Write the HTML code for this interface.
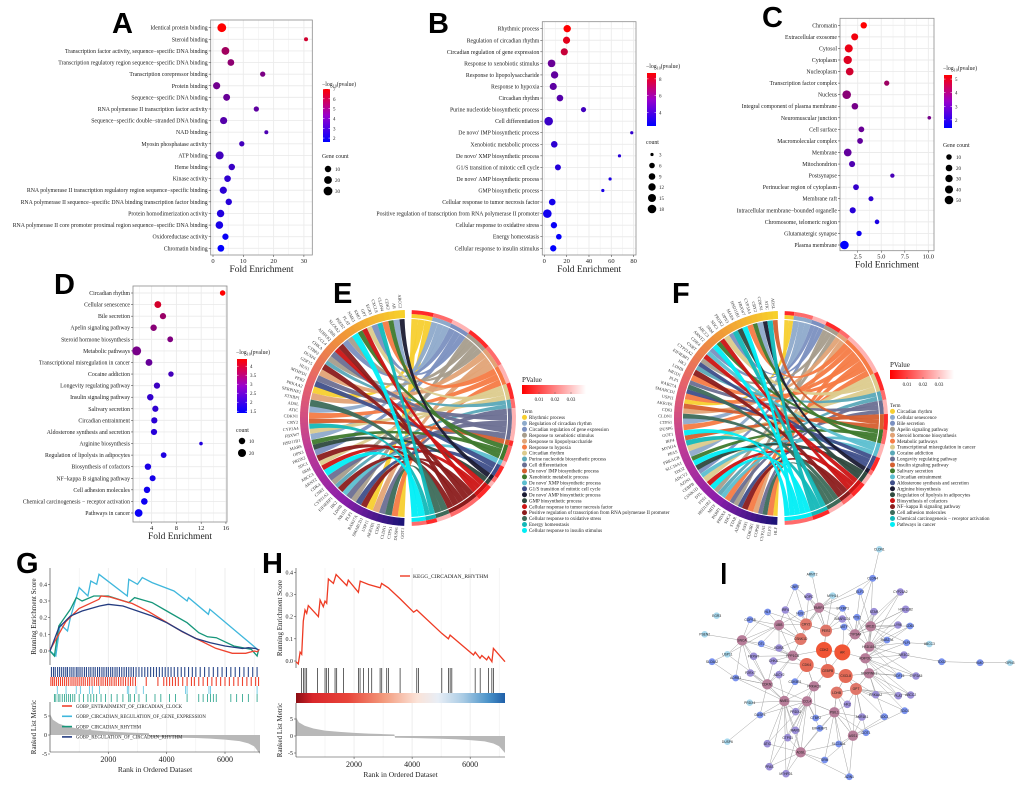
<!DOCTYPE html>
<html><head><meta charset="utf-8"><title>Figure</title>
<style>html,body{margin:0;padding:0;background:#fff}svg{display:block}</style></head>
<body>
<svg id="fig" width="1020" height="786" viewBox="0 0 1020 786" xmlns="http://www.w3.org/2000/svg">
<defs>
<linearGradient id="cbar" x1="0" y1="1" x2="0" y2="0"><stop offset="0" stop-color="#0000ff"/><stop offset="0.5" stop-color="#9900cc"/><stop offset="1" stop-color="#ff0000"/></linearGradient>
<linearGradient id="pbar" x1="0" y1="0" x2="1" y2="0"><stop offset="0" stop-color="#ff0000"/><stop offset="1" stop-color="#ffffff"/></linearGradient>
<linearGradient id="hband" x1="0" y1="0" x2="1" y2="0"><stop offset="0" stop-color="#8b0d14"/><stop offset="0.08" stop-color="#d9262b"/><stop offset="0.25" stop-color="#e8453a"/><stop offset="0.42" stop-color="#f39a7c"/><stop offset="0.58" stop-color="#fbe3d8"/><stop offset="0.68" stop-color="#e8eef6"/><stop offset="0.8" stop-color="#a9cbe4"/><stop offset="0.92" stop-color="#4b93c9"/><stop offset="1" stop-color="#1f5fa8"/></linearGradient>
</defs>
</svg>
<script>
// ---------------- DATA ----------------
const aTerms=["Identical protein binding","Steroid binding","Transcription factor activity, sequence−specific DNA binding","Transcription regulatory region sequence−specific DNA binding","Transcription corepressor binding","Protein binding","Sequence−specific DNA binding","RNA polymerase II transcription factor activity","Sequence−specific double−stranded DNA binding","NAD binding","Myosin phosphatase activity","ATP binding","Heme binding","Kinase activity","RNA polymerase II transcription regulatory region sequence−specific binding","RNA polymerase II sequence−specific DNA binding transcription factor binding","Protein homodimerization activity","RNA polymerase II core promoter proximal region sequence−specific DNA binding","Oxidoreductase activity","Chromatin binding"];
const aFold=[2.9,30.7,4.1,5.9,16.4,1.2,4.5,14.3,3.5,17.6,9.5,2.2,6.2,4.8,3.4,5.2,2.5,2.1,4.1,2.6];
const aLogP=[7,6,5,4.6,4.2,4,3.8,3.6,3.4,3.2,3,3,2.8,2.6,2.5,2.4,2.3,2.1,1.8,1.6];
const aCount=[30,3,20,12,5,15,13,5,15,3,5,22,10,11,15,10,17,18,9,12];

const bTerms=["Rhythmic process","Regulation of circadian rhythm","Circadian regulation of gene expression","Response to xenobiotic stimulus","Response to lipopolysaccharide","Response to hypoxia","Circadian rhythm","Purine nucleotide biosynthetic process","Cell differentiation","De novo' IMP biosynthetic process","Xenobiotic metabolic process","De novo' XMP biosynthetic process","G1/S transition of mitotic cell cycle","De novo' AMP biosynthetic process","GMP biosynthetic process","Cellular response to tumor necrosis factor","Positive regulation of transcription from RNA polymerase II promoter","Cellular response to oxidative stress","Energy homeostasis","Cellular response to insulin stimulus"];
const bFold=[20.5,19.9,17.9,6.5,9.2,8,14,35.1,3.9,78.3,8.9,67.3,12.2,58.9,52.4,7.1,2.7,8.6,13,8];
const bLogP=[8.7,8,7.3,5,4.8,4.7,4.5,4,3.8,3.6,3.5,3.4,3.3,3.1,3,2.9,2.8,2.6,2.5,2.4];
const bCount=[12,11,11,13,12,11,9,5,18,3,9,3,7,3,3,9,18,8,6,8];

const cTerms=["Chromatin","Extracellular exosome","Cytosol","Cytoplasm","Nucleoplasm","Transcription factor complex","Nucleus","Integral component of plasma membrane","Neuromuscular junction","Cell surface","Macromolecular complex","Membrane","Mitochondrion","Postsynapse","Perinuclear region of cytoplasm","Membrane raft","Intracellular membrane−bounded organelle","Chromosome, telomeric region","Glutamatergic synapse","Plasma membrane"];
const cFold=[3.14,2.18,1.55,1.44,1.65,5.58,1.33,2.2,10.1,2.89,2.75,1.44,1.9,6.18,2.32,3.91,1.97,4.55,2.64,1.09];
const cLogP=[5.3,5.1,5,4.8,4.6,3.8,3.5,3.2,3.2,3,2.9,2.9,2.6,2.5,2.2,2.1,2,1.8,1.6,1.4];
const cCount=[18,25,40,45,35,8,50,20,3,12,12,35,15,4,12,7,15,5,9,50];

const dTerms=["Circadian rhythm","Cellular senescence","Bile secretion","Apelin signaling pathway","Steroid hormone biosynthesis","Metabolic pathways","Transcriptional misregulation in cancer","Cocaine addiction","Longevity regulating pathway","Insulin signaling pathway","Salivary secretion","Circadian entrainment","Aldosterone synthesis and secretion","Arginine biosynthesis","Regulation of lipolysis in adipocytes","Biosynthesis of cofactors","NF−kappa B signaling pathway","Cell adhesion molecules","Chemical carcinogenesis − receptor activation","Pathways in cancer"];
const dFold=[15.46,5.0,5.83,4.32,7.0,1.58,3.57,7.12,4.86,3.78,4.6,4.43,4.38,11.97,5.94,3.4,4.16,3.25,2.82,1.9];
const dLogP=[4.4,3.9,3.2,3.0,2.9,2.8,2.6,2.2,2.1,2.0,1.95,1.9,1.85,1.8,1.75,1.7,1.65,1.6,1.55,1.5];
const dCount=[6,12,9,10,7,28,12,6,9,10,9,9,9,3,7,10,8,10,11,18];

const gRed=[[0,0.006],[537,0.175],[994,0.255],[1680,0.31],[1750,0.33],[2023,0.325],[2823,0.285],[3394,0.235],[3966,0.175],[4537,0.115],[5109,0.066],[5680,0.016],[6251,-0.014],[6709,-0.014],[7000,0],[7109,-0.004],[7180,0.01]];
const gCyan=[[0,0],[200,-0.03],[350,0.16],[600,0.12],[700,0.2],[1000,0.38],[1300,0.33],[1400,0.42],[1600,0.4],[1680,0.46],[2650,0.33],[2700,0.43],[3000,0.4],[3166,0.44],[3500,0.41],[4250,0.36],[4700,0.3],[4750,0.32],[5430,0.22],[5480,0.25],[7110,0.01]];
const gGreen=[[0,0],[150,-0.03],[300,0.15],[700,0.25],[900,0.32],[1100,0.3],[1500,0.33],[2000,0.33],[2700,0.29],[2900,0.32],[3500,0.29],[4000,0.24],[4700,0.17],[5100,0.11],[5400,0.085],[5700,0.08],[6300,0.03],[6900,0.01],[7100,-0.03],[7150,0.005]];
const gNavy=[[0,0],[300,0.14],[700,0.21],[1100,0.24],[1700,0.27],[2000,0.28],[2500,0.27],[3000,0.24],[3500,0.21],[4000,0.17],[4500,0.12],[5000,0.075],[5500,0.05],[6000,0.03],[6600,0.015],[6800,0.02],[7050,0.015],[7150,0.007]];
const gNavyHits=[50,120,180,260,330,400,470,540,600,680,750,820,900,960,1030,1100,1180,1250,1330,1400,1480,1550,1630,1700,1780,1850,1930,2000,2080,2150,2230,2300,2380,2460,2540,2620,2700,2780,2860,2950,3050,3150,3250,3350,3450,3550,3650,3750,3850,3950,4050,4150,4260,4380,4500,4620,4750,4880,5000,5150,5300,5450,5600,5750,5900,6050,6200,6350,6500,6650,6800,6950,7100];
const gRedHits=[30,90,150,220,290,360,430,500,570,640,720,790,860,930,1000,1070,1140,1210,1290,1360,1440,1520,1600,1670,1750,1820,1900,1970,2050,2120,2200,2270,2350,2430,2510,2590,2680,2760,2840,2930,3300,3700,3900,4000,4100,4200,4300,4400,4550,4700,4850,4950,5100,5250,5400,5550,5700,5850,6000,6150,6300,6450,6600,6750,6900,7050,7150];
const gCyanHits=[250,550,900,1050,1350,1450,1700,2650,2700,2950,3200,4650,4700,5450,5500,7100];
const gGreenHits=[150,200,280,340,420,500,560,640,700,780,850,1000,1150,1300,1400,1500,1600,1750,1900,2100,2300,2500,2700,2750,2900,3050,3300,3600,3800,4100,4300,4700,5100,5250,5400,5500,5600,5700,6200,6400,6600,6800,7100];
const metricRank=[0,100,300,600,1000,1500,2000,2500,3000,3390,3410,4000,4500,5000,5500,6000,6500,6800,7000,7150,7200];
const metricVal=[5.5,4,3,2.2,1.6,1.2,0.9,0.7,0.55,0.45,-0.5,-0.6,-0.7,-0.8,-0.95,-1.2,-1.6,-2.2,-3,-4.5,-5];
const hES=[[0,-0.003],[80,-0.013],[140,0.04],[195,0.03],[250,0.18],[310,0.23],[370,0.215],[425,0.25],[770,0.2],[830,0.275],[940,0.245],[1000,0.27],[1057,0.26],[1115,0.37],[1290,0.35],[1380,0.39],[1750,0.34],[1800,0.365],[2150,0.31],[2210,0.36],[2500,0.345],[2900,0.33],[2950,0.35],[3180,0.33],[3590,0.28],[4050,0.22],[4160,0.23],[5020,0.125],[5250,0.1],[5310,0.117],[6115,0.027],[6172,0.04],[6340,0.012],[6400,0.025],[6570,0.005],[6630,0.02],[6750,-0.003],[6800,0.057],[7200,-0.003]];
const hHits=[195,253,310,368,736,1000,1057,1115,1345,1402,1632,2149,2207,2322,2494,2609,2897,2954,3126,3184,3586,4161,4218,5023,5253,5310,5368,6172,6345,6632,6747,6805];
const xTicksGSEA=[2000,4000,6000];

// ---------------- HELPERS ----------------
const svg=document.getElementById('fig');
function mk(tag,attrs,parent){const e=document.createElementNS('http://www.w3.org/2000/svg',tag);for(const k in attrs)e.setAttribute(k,attrs[k]);(parent||svg).appendChild(e);return e;}
function txt(s,x,y,size,anchor,parent,extra){const t=mk('text',Object.assign({x:x,y:y,'font-size':size,'text-anchor':anchor||'start','font-family':'Liberation Serif, serif',fill:'#222'},extra||{}),parent);t.textContent=s;return t;}
function letter(s,x,y,parent){const t=mk('text',{x:x,y:y,'font-size':29,'font-weight':'bold','font-family':'Liberation Sans, sans-serif',fill:'#000'},parent);t.textContent=s;return t;}
function col(t){t=Math.max(0,Math.min(1,t));return 'rgb('+Math.round(255*t)+',0,'+Math.round(255*(1-t))+')';}

// ---------------- DOT PLOTS ----------------
function dotPanel(c){
  const g=mk('g',{});
  
  
  const sx=v=>c.x0+(v-c.d0)/(c.d1-c.d0)*(c.x1-c.x0);
  const n=c.terms.length;
  const sy=i=>c.r0+(c.r1-c.r0)*i/(n-1);
  mk('rect',{x:c.x0,y:c.y0,width:c.x1-c.x0,height:c.y1-c.y0,fill:'#fff'},g);
  const step=c.ticks[1]-c.ticks[0];
  for(let t=c.ticks[0]-step;t<=c.ticks[c.ticks.length-1]+step;t+=step/2){const x=sx(t);if(x>c.x0&&x<c.x1)mk('line',{x1:x,x2:x,y1:c.y0,y2:c.y1,stroke:'#ebebeb','stroke-width':Math.abs(((t-c.ticks[0])/step)%1)<1e-6?0.9:0.45},g);}
  for(let i=0;i<n;i++)mk('line',{x1:c.x0,x2:c.x1,y1:sy(i),y2:sy(i),stroke:'#ebebeb','stroke-width':0.9},g);
  mk('rect',{x:c.x0,y:c.y0,width:c.x1-c.x0,height:c.y1-c.y0,fill:'none',stroke:'#8c8c8c','stroke-width':0.8},g);
  for(let i=0;i<n;i++){
    mk('line',{x1:c.x0-2,x2:c.x0,y1:sy(i),y2:sy(i),stroke:'#333','stroke-width':0.5},g);
    const lb=txt(c.terms[i],c.x0-3,sy(i)+2,5.8,'end',g);
    
    
    const r=c.rmin+(c.rmax-c.rmin)*Math.sqrt(Math.max(0,(c.count[i]-c.smin)/(c.smax-c.smin)));
    const d=mk('circle',{cx:sx(c.fold[i]),cy:sy(i),r:r,fill:col((c.logp[i]-c.cmin)/(c.cmax-c.cmin))},g);
    
    
  }
  c.ticks.forEach(t=>{const x=sx(t);mk('line',{x1:x,x2:x,y1:c.y1,y2:c.y1+2,stroke:'#333','stroke-width':0.5},g);const tl=txt(c.tickLabels?c.tickLabels[c.ticks.indexOf(t)]:String(t),x,c.y1+8,6.5,'middle',g);});
  const xt=txt('Fold Enrichment',(c.x0+c.x1)/2,c.y1+17,9.5,'middle',g);
  
  
  const L=c.leg;
  const lt=mk('text',{x:L.x-1,y:L.ty,'font-size':5.8,'font-family':'Liberation Serif, serif',fill:'#222'},g);
  lt.innerHTML='−log<tspan font-size="4" dy="1.5">10</tspan><tspan dy="-1.5">(pvalue)</tspan>';
  
  
  const cb=mk('rect',{x:L.x,y:L.b0,width:L.w,height:L.b1-L.b0,fill:'url(#cbar)'},g);
  
  
  L.cticks.forEach(v=>{const y=L.b1-(v-c.cmin)/(c.cmax-c.cmin)*(L.b1-L.b0);mk('line',{x1:L.x,x2:L.x+1.5,y1:y,y2:y,stroke:'#fff','stroke-width':0.5},g);mk('line',{x1:L.x+L.w-1.5,x2:L.x+L.w,y1:y,y2:y,stroke:'#fff','stroke-width':0.5},g);txt(String(v),L.x+L.w+3,y+2,5,'start',g);});
  const st=txt(L.stitle,L.x-1,L.sty,5.8,'start',g);
  
  
  L.svals.forEach((v,i)=>{const r=c.rmin+(c.rmax-c.rmin)*Math.sqrt(Math.max(0,(v-c.smin)/(c.smax-c.smin)));const d=mk('circle',{cx:L.x+5,cy:L.sy[i],r:r,fill:'#000'},g);txt(String(v),L.x+12,L.sy[i]+2,5,'start',g);});
}
dotPanel({name:'panel-a-mf-dotplot',terms:aTerms,fold:aFold,logp:aLogP,count:aCount,x0:210.7,x1:312.3,y0:20,y1:255,d0:-0.76,d1:32.77,r0:27.7,r1:248.3,ticks:[0,10,20,30],cmin:1.6,cmax:7,rmin:2,rmax:4.4,smin:3,smax:30,
 leg:{x:323,ty:86,b0:89,b1:142,w:7,cticks:[2,3,4,5,6,7],stitle:'Gene count',sty:158,svals:[10,20,30],sy:[169,180,191]}});
dotPanel({name:'panel-b-bp-dotplot',terms:bTerms,fold:bFold,logp:bLogP,count:bCount,x0:542.3,x1:636,y0:21.7,y1:255,d0:-1.8,d1:82.1,r0:28.7,r1:248.3,ticks:[0,20,40,60,80],cmin:2.4,cmax:8.7,rmin:1.6,rmax:4.3,smin:3,smax:18,
 leg:{x:647,ty:68,b0:73,b1:126,w:9,cticks:[4,6,8],stitle:'count',sty:144,svals:[3,6,9,12,15,18],sy:[154.5,165.5,176.5,187,198,209]}});
dotPanel({name:'panel-c-cc-dotplot',terms:cTerms,fold:cFold,logp:cLogP,count:cCount,x0:840,x1:934,y0:18.3,y1:250.7,d0:0.62,d1:10.6,r0:25.3,r1:245,ticks:[2.5,5,7.5,10],tickLabels:['2.5','5.0','7.5','10.0'],cmin:1.4,cmax:5.3,rmin:1.8,rmax:4.3,smin:3,smax:50,
 leg:{x:944,ty:70,b0:75,b1:128,w:8,cticks:[2,3,4,5],stitle:'Gene count',sty:147,svals:[10,20,30,40,50],sy:[157,168,178.5,189.5,200]}});
dotPanel({name:'panel-d-kegg-dotplot',terms:dTerms,fold:dFold,logp:dLogP,count:dCount,x0:133,x1:227,y0:286,y1:522,d0:0.99,d1:16.17,r0:293,r1:513,ticks:[4,8,12,16],cmin:1.4,cmax:4.4,rmin:1.8,rmax:4.5,smin:3,smax:28,
 leg:{x:237,ty:354,b0:359,b1:413,w:10,cticks:[1.5,2.0,2.5,3.0,3.5,4.0],stitle:'count',sty:432,svals:[10,20],sy:[441,453]}});
letter('A',112,33);letter('B',428,33);letter('C',762,27);letter('D',54,294);

// ---------------- CHORD DIAGRAMS ----------------
const termColors=['#f7cf2f','#8eaacb','#7b90c0','#a79d8c','#e2a376','#f67b45','#dccb8d','#5aa8b8','#6b6f92','#d55f2f','#3f7a2e','#5cbfd0','#3f4f8a','#1b1b33','#2f4a3f','#cc1414','#8b1c1c','#3d6b5a','#13b8b8','#00eef5'];
const geneNames=['ABCC2','ABCC3','ADRB1','ADSL','ADCY2','ADIPOQ','AKR1B1','AR','ARNT2','ASS1','ATIC','AZIN1','CCL4','CD63','CDK2','CDK4','CDK5R1','CDKN1','CEBPB','CHKA','CLDN1','CLDN4','CNRT','COPS8','CRY2','CSNK1D','CTBP2','CTPS1','CXCL8','CYP21A2','CYP2A5','CYP3A4','DTL','DUSP4','DUSP6','EGR3','EIF4EBP1','ELF3','FBXW7','FTS1','GDF15','GOT1','GPT','HK2','HLF','HSD11B1','HSD11B2','HUS1','IRF4','KMO','LDHB','LY96','MARS','MITF','MTHFD1','MYH14','NME1','NR1D1','NR3C2','OPN3','PARP1','PER2','PFAS','PLAT','PLP1','PPP1CB','PRDX2','PRDX4','PRKAA2','PRKACB','PSEN2','RAB27A','RORA','SDC1','SDC4','SERPINE1','SLC16A1','SLC6A2','SMARCD1','SNCA','SRM','STAR','STXBP1','TDO2','UBB','USP11'];
function chord(c){
  const g=mk('g',{});
  
  
  const cx=c.cx,cy=c.cy,r=c.r;
  const P=(a,rr)=>[(cx+rr*Math.cos(a*Math.PI/180)).toFixed(2),(cy+rr*Math.sin(a*Math.PI/180)).toFixed(2)];
  const band=(a1,a2,r1,r2)=>{const p1=P(a1,r2),p2=P(a2,r2),p3=P(a2,r1),p4=P(a1,r1);const lg=(a2-a1)>180?1:0;return 'M'+p1+' A'+r2+' '+r2+' 0 '+lg+' 1 '+p2+' L'+p3+' A'+r1+' '+r1+' 0 '+lg+' 0 '+p4+'Z';};
  const tot=c.counts.reduce((a,b)=>a+b,0);const span=176;
  let a=-88;const segs=[];
  c.counts.forEach(cn=>{const w=cn/tot*span;segs.push([a,a+w]);a+=w;});
  const chords=[];
  segs.forEach((s,k)=>{const cn=Math.max(1,Math.ceil(c.counts[k]/4));const w=(s[1]-s[0])/cn;for(let j=0;j<cn;j++)chords.push({k:k,a1:s[0]+j*w,a2:s[0]+(j+1)*w,key:(k*37+j*53)%97+k*0.01+j*0.0001});});
  const sorted=chords.slice().sort((p,q)=>p.key-q.key);
  let b=92;sorted.forEach(ch=>{const w=ch.a2-ch.a1;ch.b1=b;ch.b2=b+w;b+=w;});
  chords.forEach(ch=>{
    const p=mk('path',{d:'M'+P(ch.a1,r)+' A'+r+' '+r+' 0 0 1 '+P(ch.a2,r)+' Q'+cx+' '+cy+' '+P(ch.b1,r)+' A'+r+' '+r+' 0 0 1 '+P(ch.b2,r)+' Q'+cx+' '+cy+' '+P(ch.a1,r)+'Z',fill:termColors[ch.k],'fill-opacity':0.95},g);
    
    
  });
  segs.forEach((s,k)=>{
    const t=mk('path',{d:band(s[0],s[1],r+1,r+5),fill:termColors[k]},g);
    
    
    const pv=k%3===0?'#ff2a2a':(k%3===1?'#ff6b6b':'#ffb3b3');
    mk('path',{d:band(s[0],s[1],r+5,r+9),fill:pv},g);
  });
  const gstops=[[247,208,42],[240,150,55],[228,95,110],[190,60,150],[140,30,170],[30,20,120]];
  for(let i=0;i<60;i++){const t=i/59;const f=t*(gstops.length-1);const i0=Math.min(gstops.length-2,Math.floor(f));const u=f-i0;const cc=gstops[i0].map((v,j)=>Math.round(v+(gstops[i0+1][j]-v)*u));
    mk('path',{d:band(268-(i+1)*176/60,268-i*176/60+0.3,r+1,r+9),fill:'rgb('+cc+')'},g);}
  for(let i=0;i<56;i++){const ang=266-i*3.15;const p=P(ang,r+11);const t=txt(geneNames[(i*7+c.off)%geneNames.length],p[0],p[1],4.3,'end',g,{transform:'rotate('+(ang-180)+' '+p[0]+' '+p[1]+')',fill:'#333'});t.setAttribute('dy','1.4');}
  const lx=c.lx;
  const pt=txt('PValue',lx,c.py,7,'start',g);
  
  
  const pb=mk('rect',{x:lx,y:c.py+3,width:64,height:9,fill:'url(#pbar)'},g);
  
  
  [['0.01',17],['0.02',33],['0.03',49]].forEach(q=>{mk('line',{x1:lx+q[1],x2:lx+q[1],y1:c.py+10,y2:c.py+12,stroke:'#555','stroke-width':0.4},g);txt(q[0],lx+q[1],c.py+19,5,'middle',g);});
  txt('Term',lx,c.ty,5,'start',g);
  c.terms.forEach((tm,i)=>{const y=c.ty+6+i*5.95;const sw=mk('circle',{cx:lx+2.5,cy:y-1.6,r:2.5,fill:termColors[i]},g);const t=txt(tm,lx+7,y,5,'start',g);});
}
chord({name:'panel-e-bp-chord',cx:408,cy:418,r:99,counts:bCount,terms:bTerms,lx:522,py:382,ty:413,off:0});
chord({name:'panel-f-kegg-chord',cx:781,cy:418,r:98,counts:dCount,terms:dTerms,lx:890,py:367,ty:407,off:3});
letter('E',333,303);letter('F',672,303);

// ---------------- GSEA ----------------
function gsea(c){
  const g=mk('g',{});
  
  
  const sx=v=>c.x0+v/7200*(c.x1-c.x0);
  const ey=v=>c.e0-v/0.4*(c.e0-c.e4);
  for(let t=1000;t<7200;t+=1000){const x=sx(t);mk('line',{x1:x,x2:x,y1:c.top,y2:c.bottom,stroke:'#ececec','stroke-width':t%2000===0?0.9:0.5},g);}
  mk('line',{x1:c.x0,x2:c.x0,y1:c.top,y2:c.etop2,stroke:'#333','stroke-width':0.6},g);
  [0,0.1,0.2,0.3,0.4].forEach(v=>{const y=ey(v);mk('line',{x1:c.x0-2,x2:c.x0,y1:y,y2:y,stroke:'#333','stroke-width':0.5},g);const tl=txt(v.toFixed(1),c.x0-3,y+2,6,'end',g);});
  const yt=txt('Running Enrichment Score',0,0,7,'middle',g,{transform:'translate('+(c.x0-14)+','+((c.top+c.etop2)/2)+') rotate(-90)'});
  
  
  c.series.forEach(s=>{const pl=mk('polyline',{points:s.pts.map(p=>sx(p[0]).toFixed(1)+','+ey(p[1]).toFixed(1)).join(' '),fill:'none',stroke:s.color,'stroke-width':1.3},g);});
  c.hits.forEach(h=>{h.ranks.forEach(rk=>{const l=mk('line',{x1:sx(rk),x2:sx(rk),y1:h.y0,y2:h.y1,stroke:h.color,'stroke-width':h.w||0.8},g);});});
  const my=v=>c.m0-v/5*(c.m0-c.m5);
  let d='M'+sx(0)+','+my(0);
  metricRank.forEach((rk,i)=>{d+=' L'+sx(rk).toFixed(1)+','+my(metricVal[i]).toFixed(1);});
  d+=' L'+sx(7200)+','+my(0)+'Z';
  const ar=mk('path',{d:d,fill:'#b8b8b8'},g);
  
  
  mk('line',{x1:c.x0,x2:c.x0,y1:c.mtop,y2:c.bottom,stroke:'#333','stroke-width':0.6},g);
  [5,0,-5].forEach(v=>{const y=my(v);mk('line',{x1:c.x0-2,x2:c.x0,y1:y,y2:y,stroke:'#333','stroke-width':0.5},g);txt(v===-5?'-5':String(v),c.x0-3,y+2,6,'end',g);});
  const mt=txt('Ranked List Metric',0,0,7,'middle',g,{transform:'translate('+(c.x0-14)+','+((c.mtop+c.bottom)/2)+') rotate(-90)'});
  
  
  mk('line',{x1:c.x0,x2:c.x1,y1:c.bottom,y2:c.bottom,stroke:'#333','stroke-width':0.6},g);
  xTicksGSEA.forEach(t=>{const x=sx(t);mk('line',{x1:x,x2:x,y1:c.bottom,y2:c.bottom+2,stroke:'#333','stroke-width':0.5},g);const tl=txt(String(t),x,c.bottom+10,8,'middle',g);});
  const xt=txt('Rank in Ordered Dataset',(c.x0+c.x1)/2,c.bottom+20,7.5,'middle',g);
  
  
  return {g:g,sx:sx};
}
gsea({name:'panel-g-gsea',x0:50,x1:260,top:568,etop2:665,e0:651,e4:584.3,bottom:752,mtop:702,m0:735,m5:716,
 series:[{key:'cyan',pts:gCyan,color:'#3fb7dc'},{key:'green',pts:gGreen,color:'#16967a'},{key:'red',pts:gRed,color:'#ee4430'},{key:'navy',pts:gNavy,color:'#253c80'}],
 hits:[{ranks:gNavyHits,color:'#2d4a8c',y0:667,y1:677,w:1.1},{ranks:gRedHits,color:'#ee4430',y0:677,y1:686,w:1.1},{ranks:gCyanHits,color:'#5cc3e0',y0:686,y1:694},{ranks:gGreenHits,color:'#1e9f85',y0:694,y1:702}]});
const gLeg=[['GOBP_ENTRAINMENT_OF_CIRCADIAN_CLOCK','#ee4430'],['GOBP_CIRCADIAN_REGULATION_OF_GENE_EXPRESSION','#3fb7dc'],['GOBP_CIRCADIAN_RHYTHM','#16967a'],['GOBP_REGULATION_OF_CIRCADIAN_RHYTHM','#253c80']];
gLeg.forEach((e,i)=>{const y=706+i*10.3;const l=mk('line',{x1:62,x2:72,y1:y,y2:y,stroke:e[1],'stroke-width':1.6});const t=txt(e[0],76,y+1.8,4.8,'start');});

gsea({name:'panel-h-gsea',x0:296,x1:505,top:568,etop2:668,e0:661,e4:572.3,bottom:757,mtop:703,m0:736,m5:719,
 series:[{key:'red',pts:hES,color:'#ee3b24'}],
 hits:[{ranks:hHits,color:'#222',y0:668,y1:693,w:0.7}]});
const hb=mk('rect',{x:296,y:693,width:209,height:10,fill:'url(#hband)'});


const hl=mk('line',{x1:400,x2:410,y1:576,y2:576,stroke:'#ee3b24','stroke-width':1.4});


const hlt=txt('KEGG_CIRCADIAN_RHYTHM',413,578,5.5,'start');


letter('G',16,573);letter('H',262,573);

// ---------------- NETWORK ----------------
const netNodes=[["CDK2",432,315,"O"],["AR",487,322,"O"],["CDK4",380,360,"R1"],["CEBPB",443,378,"R1"],["CXCL8",497,393,"R1"],["GPT",528,432,"R"],["LDHB",470,443,"R"],["PER2",438,257,"R"],["CRY2",378,238,"R"],["CSNK1D",362,282,"R"],["UBB",297,240,"M"],["PPP1CB",338,332,"M"],["CYP3A4",525,268,"M"],["ADIPOQ",556,340,"M"],["SERPINE1",567,385,"M"],["HSD11B1",568,305,"M"],["NR1D1",572,244,"M"],["PARP1",417,188,"M"],["SNCA",186,286,"M"],["CDKN1",262,418,"M"],["NME1",313,468,"M"],["CCL4",381,469,"M"],["PRKACB",402,424,"M"],["PSIL1",463,502,"M"],["ASS1",519,572,"M"],["ADSL",362,622,"M"],["CTPS1",323,578,"P"],["ATIC",262,596,"P"],["PFAS",268,665,"P"],["MTHFD1",318,686,"P"],["SRM",434,645,"B"],["AZIN1",508,695,"B"],["SLC16A1",476,597,"B"],["GOT1",558,563,"B"],["EIF4EBP1",419,550,"B"],["CTBP2",407,519,"B"],["MARS",346,556,"P"],["HK2",502,478,"P"],["AKR1B1",546,516,"P"],["PRKAA2",587,449,"P"],["PLAT",655,452,"P"],["ABCC2",692,450,"P"],["CYP2A5",708,393,"P"],["GDF15",657,392,"B"],["SDC4",674,497,"B"],["SDC1",613,515,"B"],["NR3C2",672,330,"P"],["PLP1",680,293,"B"],["ABCC3",748,297,"C"],["CD63",690,243,"B"],["LY96",654,240,"P"],["HSD11B2",677,193,"P"],["CYP21A2",661,141,"P"],["STAR",582,200,"P"],["RAB27A",621,285,"B"],["FTS1",531,217,"B"],["MITF",492,246,"B"],["SMARCD1",487,222,"P"],["STXBP1",488,190,"B"],["ELF3",540,140,"B"],["CLDN4",578,100,"B"],["CLDN1",598,13,"C"],["ARNT2",396,88,"C"],["MYH14",458,152,"C"],["NOPC",386,155,"P"],["CNRT",345,126,"B"],["IRF4",316,195,"P"],["HUS1",362,205,"B"],["HLF",263,201,"B"],["COPS8",210,224,"B"],["EGR3",110,212,"C"],["PSEN2",74,268,"C"],["DTL",244,296,"B"],["RORA",297,309,"P"],["CHKA",280,348,"P"],["FBXW7",221,334,"P"],["USP11",142,328,"C"],["SLC6A2",96,350,"B"],["P2RX7",211,384,"P"],["ADRB1",167,399,"B"],["ADCY2",297,389,"P"],["CDK5R1",345,410,"B"],["PRDX2",347,500,"P"],["PRDX4",209,473,"C"],["DUSP4",240,510,"B"],["DUSP6",142,590,"C"],["TDO2",785,350,"B"],["KMO",900,353,"B"],["OPN3",990,353,"C"]];
const netExtraEdges=[["TDO2","KMO"],["KMO","OPN3"],["TDO2","NR3C2"],["ABCC3","PLP1"],["CLDN1","CLDN4"],["CLDN4","ELF3"],["DUSP6","DUSP4"],["PSEN2","SNCA"],["SLC6A2","ADRB1"],["SLC6A2","USP11"],["ADRB1","CDKN1"],["ARNT2","PARP1"],["PRDX4","NME1"]];
const netPeripheral=["TDO2","KMO","OPN3","ABCC3","CLDN1","DUSP6","PSEN2","SLC6A2","EGR3","ARNT2","PRDX4"];
(function(){
  const g=mk('g',{});
  
  
  const ge=mk('g',{},g);
  const style={O:['#f05535',8],R1:['#e56a56',7],R:['#e0776a',6],M:['#b77d99',5.2],P:['#9c8fd8',3.8],B:['#7a92ee',3.4],C:['#a9d9ee',3.3]};
  const pos={};netNodes.forEach(n=>{pos[n[0]]=[680+n[1]/3,545+n[2]/3,n[3]];});
  const hubs=netNodes.filter(n=>['O','R1','R','M'].includes(n[3]));
  const edge=(a,b)=>{const p=pos[a],q=pos[b];const l=mk('line',{x1:p[0],y1:p[1],x2:q[0],y2:q[1],stroke:'#9a9a9a','stroke-width':0.45},ge);};
  netNodes.forEach(n=>{if(netPeripheral.includes(n[0]))return;const p=pos[n[0]];const near=hubs.filter(h=>h[0]!==n[0]).map(h=>[h[0],Math.hypot(pos[h[0]][0]-p[0],pos[h[0]][1]-p[1])]).sort((a,b)=>a[1]-b[1]).slice(0,3);near.forEach(h=>edge(n[0],h[0]));});
  netExtraEdges.forEach(e=>edge(e[0],e[1]));
  netNodes.forEach(n=>{const p=pos[n[0]];const s=style[n[3]];const c=mk('circle',{cx:p[0],cy:p[1],r:s[1],fill:s[0]},g);txt(n[0],p[0],p[1]+1.2,3.3,'middle',g,{'font-family':'Liberation Sans, sans-serif',fill:'#222'});});
  const L=mk('rect',{x:722,y:563,width:3.5,height:21,fill:'#000'});
  
  
})();
</script>
</body></html>
